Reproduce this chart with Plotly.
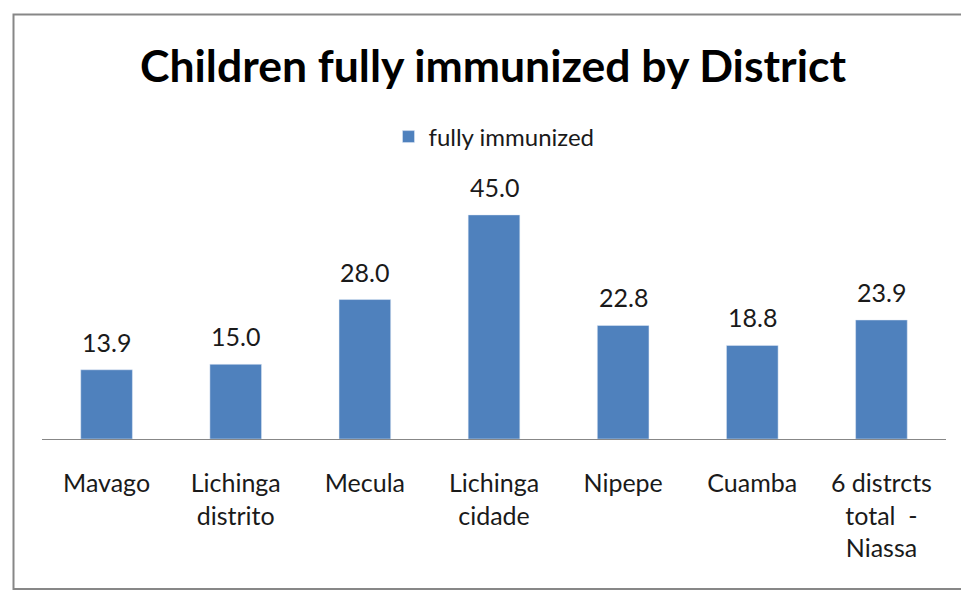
import plotly.graph_objects as go

categories = ["Mavago", "Lichinga<br>distrito", "Mecula", "Lichinga<br>cidade", "Nipepe", "Cuamba", "6 distrcts<br>total  -<br>Niassa"]
values = [13.9, 15.0, 28.0, 45.0, 22.8, 18.8, 23.9]
series_name = "fully immunized"

FONT = "Lato"
TXT = "#1a1a1a"
fig = go.Figure()
fig.add_trace(go.Bar(x=categories, y=values, name=series_name, marker_color="#4F81BD",
                     showlegend=True))

for c, v in zip(categories, values):
    fig.add_annotation(x=c, y=v, text=f"{v:.1f}", showarrow=False, yanchor="bottom",
                       yshift=11, font=dict(family=FONT, size=25, color=TXT))

fig.update_layout(
    width=961, height=591,
    margin=dict(l=42, r=15, t=190, b=152),
    paper_bgcolor="white", plot_bgcolor="white",
    bargap=0.6,
    title=dict(text="<b>Children fully immunized by District</b>", x=0.513, xanchor="center",
               y=1 - 66 / 591, yanchor="middle", yref="container",
               font=dict(family=FONT, size=44.5, color="black")),
    showlegend=True,
    legend=dict(orientation="h", x=0.5, xanchor="center", y=(439 - 137) / 249, yanchor="middle",
                font=dict(family=FONT, size=24, color=TXT), itemwidth=30),
    xaxis=dict(showline=True, linecolor="#878787", linewidth=1, ticks="", showgrid=False,
               tickfont=dict(family=FONT, size=25, color=TXT), ticklabelstandoff=22),
    yaxis=dict(range=[0, 50], visible=False, showgrid=False),
)
fig.add_shape(type="rect", xref="paper", yref="paper",
              x0=(13.5 - 42) / 904, x1=(975 - 42) / 904,
              y0=(439 - 589) / 249, y1=(439 - 14.5) / 249,
              line=dict(color="#878787", width=2))

fig.write_html("out.html", config={"displayModeBar": False},
               post_script="document.body.style.margin='0';")
